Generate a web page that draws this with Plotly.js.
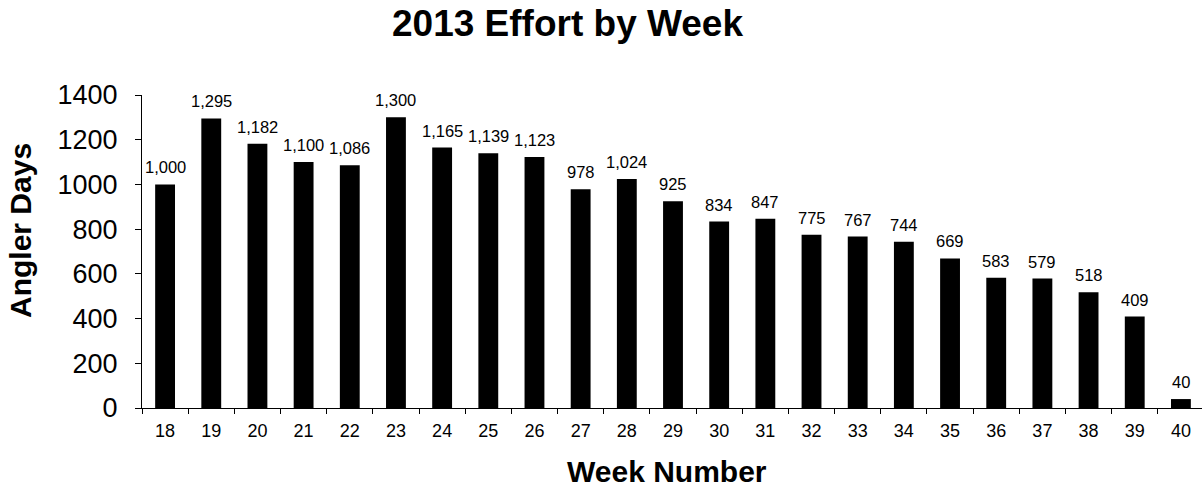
<!DOCTYPE html>
<html>
<head>
<meta charset="utf-8">
<script src="https://cdn.plot.ly/plotly-3.0.1.min.js"></script>
<style>
html, body { margin: 0; padding: 0; background: #fff; overflow: hidden; }
#chart { width: 1205px; height: 489px; }
</style>
</head>
<body>
<div id="chart"></div>
<script>
// Data
const weeks = ["18","19","20","21","22","23","24","25","26","27","28","29","30","31","32","33","34","35","36","37","38","39","40"];
const anglerDays = [1000,1295,1182,1100,1086,1300,1165,1139,1123,978,1024,925,834,847,775,767,744,669,583,579,518,409,40];
const yTicks = [0,200,400,600,800,1000,1200,1400];

const FONT = '"Liberation Sans", Arial, sans-serif';
const W = 1205, H = 489;
const L = 142, R = 1, T = 95, B = 81;

const trace = {
  type: 'bar',
  x: weeks,
  y: anglerDays,
  marker: { color: '#000000', line: { width: 0 } },
  hoverinfo: 'x+y'
};

// value labels above the bars, positioned by the library's axes (category index)
const valueLabels = weeks.map((w, i) => ({
  xref: 'x', yref: 'y', x: i, y: anglerDays[i],
  text: anglerDays[i].toLocaleString('en-US'),
  xanchor: 'center', yanchor: 'bottom', yshift: 6,
  showarrow: false,
  font: { family: FONT, size: 16.5, color: '#000' }
}));

const layout = {
  width: W, height: H,
  margin: { l: L, r: R, t: T, b: B, pad: 0 },
  paper_bgcolor: '#fff', plot_bgcolor: '#fff',
  showlegend: false,
  bargap: 0.57,
  font: { family: FONT, color: '#000' },
  title: {
    text: '<b>2013 Effort by Week</b>',
    font: { family: FONT, size: 37, color: '#000' },
    xref: 'container', x: 567.5 / W, xanchor: 'center',
    yref: 'container', y: 1 - 23 / H, yanchor: 'middle'
  },
  xaxis: {
    type: 'category',
    range: [-0.5, weeks.length - 0.5],
    showline: true, linecolor: '#000', linewidth: 1,
    ticks: 'outside', ticklen: 5, tickcolor: '#000', tickwidth: 1,
    tickson: 'boundaries',
    showgrid: false, zeroline: false,
    tickfont: { family: FONT, size: 18, color: '#000' },
    ticklabelstandoff: 6
  },
  yaxis: {
    range: [0, 1400],
    tickvals: yTicks,
    ticktext: yTicks.map(String),
    showline: true, linecolor: '#000', linewidth: 1,
    ticks: 'outside', ticklen: 6, tickcolor: '#000', tickwidth: 1,
    showgrid: false, zeroline: false,
    tickfont: { family: FONT, size: 27, color: '#000' },
    ticklabelstandoff: 12
  },
  annotations: valueLabels.concat([
    {
      text: '<b>Angler Days</b>', textangle: -90,
      font: { family: FONT, size: 30, color: '#000' },
      xref: 'paper', x: 0, xanchor: 'center', xshift: 20 - L,
      yref: 'paper', y: (408 - 231) / 313, yanchor: 'middle',
      showarrow: false
    },
    {
      text: '<b>Week Number</b>',
      font: { family: FONT, size: 30, color: '#000' },
      xref: 'paper', x: (667 - L) / (W - L - R), xanchor: 'center',
      yref: 'paper', y: 0, yanchor: 'middle', yshift: -(471 - 408),
      showarrow: false
    }
  ])
};

Plotly.newPlot('chart', [trace], layout, { displayModeBar: false, staticPlot: true });
</script>
</body>
</html>
